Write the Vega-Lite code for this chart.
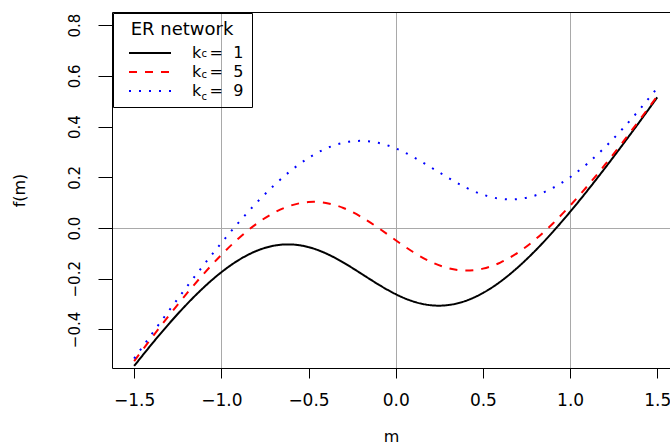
{
  "$schema": "https://vega.github.io/schema/vega-lite/v6.json",
  "autosize": "none",
  "width": 558,
  "height": 356,
  "padding": {"left": 112, "top": 12, "right": 0, "bottom": 78},
  "config": {
    "font": "DejaVu Sans",
    "view": {"stroke": null},
    "axis": {"domainColor": "black", "tickColor": "black", "labelColor": "black", "titleColor": "black", "titleFontWeight": "normal", "gridColor": "#a9a9a9", "gridWidth": 1}
  },
  "data": {"values": [
    {"m": -1.5, "f": -0.544, "k": "kc = 1"}, {"m": -1.4, "f": -0.4586, "k": "kc = 1"}, {"m": -1.3, "f": -0.3774, "k": "kc = 1"}, {"m": -1.2, "f": -0.3019, "k": "kc = 1"}, {"m": -1.1, "f": -0.2337, "k": "kc = 1"}, {"m": -1.0, "f": -0.1744, "k": "kc = 1"}, {"m": -0.9, "f": -0.1261, "k": "kc = 1"}, {"m": -0.8, "f": -0.0907, "k": "kc = 1"}, {"m": -0.7, "f": -0.0698, "k": "kc = 1"}, {"m": -0.6, "f": -0.0647, "k": "kc = 1"}, {"m": -0.5, "f": -0.0752, "k": "kc = 1"}, {"m": -0.4, "f": -0.1001, "k": "kc = 1"}, {"m": -0.3, "f": -0.1362, "k": "kc = 1"}, {"m": -0.2, "f": -0.1788, "k": "kc = 1"}, {"m": -0.1, "f": -0.2223, "k": "kc = 1"}, {"m": 0.0, "f": -0.2608, "k": "kc = 1"}, {"m": 0.1, "f": -0.2894, "k": "kc = 1"}, {"m": 0.2, "f": -0.3044, "k": "kc = 1"}, {"m": 0.3, "f": -0.3039, "k": "kc = 1"}, {"m": 0.4, "f": -0.2876, "k": "kc = 1"}, {"m": 0.5, "f": -0.2563, "k": "kc = 1"}, {"m": 0.6, "f": -0.2116, "k": "kc = 1"}, {"m": 0.7, "f": -0.1553, "k": "kc = 1"}, {"m": 0.8, "f": -0.0896, "k": "kc = 1"}, {"m": 0.9, "f": -0.016, "k": "kc = 1"}, {"m": 1.0, "f": 0.0636, "k": "kc = 1"}, {"m": 1.1, "f": 0.1481, "k": "kc = 1"}, {"m": 1.2, "f": 0.2362, "k": "kc = 1"}, {"m": 1.3, "f": 0.3273, "k": "kc = 1"}, {"m": 1.4, "f": 0.4205, "k": "kc = 1"}, {"m": 1.5, "f": 0.5154, "k": "kc = 1"},
    {"m": -1.5, "f": -0.5249, "k": "kc = 5"}, {"m": -1.4, "f": -0.4334, "k": "kc = 5"}, {"m": -1.3, "f": -0.3447, "k": "kc = 5"}, {"m": -1.2, "f": -0.2598, "k": "kc = 5"}, {"m": -1.1, "f": -0.1797, "k": "kc = 5"}, {"m": -1.0, "f": -0.1059, "k": "kc = 5"}, {"m": -0.9, "f": -0.0401, "k": "kc = 5"}, {"m": -0.8, "f": 0.0158, "k": "kc = 5"}, {"m": -0.7, "f": 0.0595, "k": "kc = 5"}, {"m": -0.6, "f": 0.089, "k": "kc = 5"}, {"m": -0.5, "f": 0.1025, "k": "kc = 5"}, {"m": -0.4, "f": 0.099, "k": "kc = 5"}, {"m": -0.3, "f": 0.0791, "k": "kc = 5"}, {"m": -0.2, "f": 0.0449, "k": "kc = 5"}, {"m": -0.1, "f": 0.0007, "k": "kc = 5"}, {"m": 0.0, "f": -0.048, "k": "kc = 5"}, {"m": 0.1, "f": -0.0945, "k": "kc = 5"}, {"m": 0.2, "f": -0.1328, "k": "kc = 5"}, {"m": 0.3, "f": -0.1581, "k": "kc = 5"}, {"m": 0.4, "f": -0.1677, "k": "kc = 5"}, {"m": 0.5, "f": -0.1601, "k": "kc = 5"}, {"m": 0.6, "f": -0.1361, "k": "kc = 5"}, {"m": 0.7, "f": -0.0972, "k": "kc = 5"}, {"m": 0.8, "f": -0.0454, "k": "kc = 5"}, {"m": 0.9, "f": 0.017, "k": "kc = 5"}, {"m": 1.0, "f": 0.0882, "k": "kc = 5"}, {"m": 1.1, "f": 0.1662, "k": "kc = 5"}, {"m": 1.2, "f": 0.2496, "k": "kc = 5"}, {"m": 1.3, "f": 0.3371, "k": "kc = 5"}, {"m": 1.4, "f": 0.4276, "k": "kc = 5"}, {"m": 1.5, "f": 0.5206, "k": "kc = 5"},
    {"m": -1.5, "f": -0.5145, "k": "kc = 9"}, {"m": -1.4, "f": -0.4192, "k": "kc = 9"}, {"m": -1.3, "f": -0.3255, "k": "kc = 9"}, {"m": -1.2, "f": -0.2337, "k": "kc = 9"}, {"m": -1.1, "f": -0.1446, "k": "kc = 9"}, {"m": -1.0, "f": -0.0589, "k": "kc = 9"}, {"m": -0.9, "f": 0.0225, "k": "kc = 9"}, {"m": -0.8, "f": 0.0983, "k": "kc = 9"}, {"m": -0.7, "f": 0.167, "k": "kc = 9"}, {"m": -0.6, "f": 0.2271, "k": "kc = 9"}, {"m": -0.5, "f": 0.2765, "k": "kc = 9"}, {"m": -0.4, "f": 0.3135, "k": "kc = 9"}, {"m": -0.3, "f": 0.3363, "k": "kc = 9"}, {"m": -0.2, "f": 0.3439, "k": "kc = 9"}, {"m": -0.1, "f": 0.336, "k": "kc = 9"}, {"m": 0.0, "f": 0.314, "k": "kc = 9"}, {"m": 0.1, "f": 0.2807, "k": "kc = 9"}, {"m": 0.2, "f": 0.2404, "k": "kc = 9"}, {"m": 0.3, "f": 0.1985, "k": "kc = 9"}, {"m": 0.4, "f": 0.1605, "k": "kc = 9"}, {"m": 0.5, "f": 0.1317, "k": "kc = 9"}, {"m": 0.6, "f": 0.1155, "k": "kc = 9"}, {"m": 0.7, "f": 0.1143, "k": "kc = 9"}, {"m": 0.8, "f": 0.1285, "k": "kc = 9"}, {"m": 0.9, "f": 0.1576, "k": "kc = 9"}, {"m": 1.0, "f": 0.2002, "k": "kc = 9"}, {"m": 1.1, "f": 0.2545, "k": "kc = 9"}, {"m": 1.2, "f": 0.3185, "k": "kc = 9"}, {"m": 1.3, "f": 0.3905, "k": "kc = 9"}, {"m": 1.4, "f": 0.4688, "k": "kc = 9"}, {"m": 1.5, "f": 0.5522, "k": "kc = 9"}
  ]},
  "encoding": {
    "x": {"field": "m", "type": "quantitative", "scale": {"domain": [-1.627, 1.573], "nice": false, "zero": false}},
    "y": {"field": "f", "type": "quantitative", "scale": {"domain": [-0.552, 0.852], "nice": false, "zero": false},
      "axis": {"title": "f(m)", "titleFontSize": 16, "titlePadding": 40, "values": [-0.4, -0.2, 0, 0.2, 0.4, 0.6, 0.8], "format": ".1f", "labelAngle": -90, "labelAlign": "center", "labelBaseline": "alphabetic", "labelFontSize": 15, "tickSize": 14, "labelPadding": 19, "grid": true, "gridOpacity": {"condition": {"test": "datum.value == 0", "value": 1}, "value": 0}}}
  },
  "layer": [
    {
      "mark": {"type": "line", "strokeWidth": 2, "interpolate": "natural"},
      "encoding": {
        "x": {"field": "m", "type": "quantitative", "axis": {"title": "m", "titleFontSize": 16, "titlePadding": 20, "values": [-1.5, -1, -0.5, 0, 0.5, 1, 1.5], "format": ".1f", "labelFontSize": 17, "tickSize": 10, "labelPadding": 14, "grid": true, "gridOpacity": {"condition": {"test": "datum.value == -1 || datum.value == 0 || datum.value == 1", "value": 1}, "value": 0}}},
        "color": {"field": "k", "type": "nominal", "scale": {"domain": ["kc = 1", "kc = 5", "kc = 9"], "range": ["#000000", "#ff0000", "#0000ff"]},
          "legend": {"title": "ER network", "orient": "top-left", "offset": 1, "strokeColor": "black", "padding": 8, "titleFontSize": 18, "titleFontWeight": "normal", "titleAnchor": "middle", "titlePadding": 6, "labelFontSize": 16, "rowPadding": 3, "symbolType": "M-3,0H3", "symbolSize": 196, "symbolStrokeWidth": 2, "symbolOffset": 21, "labelOffset": 34, "labelExpr": "'k\u00a0\u2009=\u00a0\u00a0' + slice(datum.label, -1) + '\u00a0\u00a0\u00a0\u00a0'"}},
        "strokeDash": {"field": "k", "type": "nominal", "scale": {"domain": ["kc = 1", "kc = 5", "kc = 9"], "range": [[1, 0], [8, 8], [2, 8]]},
          "legend": {"title": "ER network", "orient": "top-left", "offset": 1, "strokeColor": "black", "padding": 8, "titleFontSize": 18, "titleFontWeight": "normal", "titleAnchor": "middle", "titlePadding": 6, "labelFontSize": 16, "rowPadding": 3, "symbolType": "M-3,0H3", "symbolSize": 196, "symbolStrokeWidth": 2, "symbolOffset": 21, "labelOffset": 34, "labelExpr": "'k\u00a0\u2009=\u00a0\u00a0' + slice(datum.label, -1) + '\u00a0\u00a0\u00a0\u00a0'"}}
      }
    },
    {
      "mark": {"type": "point", "opacity": 0},
      "encoding": {
        "x": {"field": "m", "type": "quantitative", "axis": {"orient": "top", "title": null, "labels": false, "ticks": false, "grid": false, "domain": true}},
        "shape": {"field": "k", "type": "nominal", "scale": {"domain": ["kc = 1", "kc = 5", "kc = 9"], "range": ["circle", "circle", "circle"]},
          "legend": {"title": null, "orient": "none", "legendX": 10.5, "legendY": 25.7, "padding": 8, "strokeColor": null, "labelFontSize": 10, "rowPadding": 6.5, "symbolSize": 196, "symbolStrokeWidth": 2, "symbolOffset": 21, "labelOffset": 34, "symbolOpacity": 0, "labelExpr": "'c'"}}
      }
    }
  ],
  "resolve": {"axis": {"x": "independent"}}
}
